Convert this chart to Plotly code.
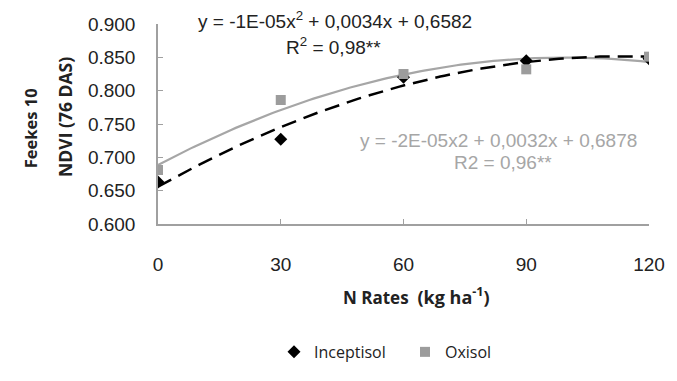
import numpy as np
import plotly.graph_objects as go

n_rates = [0, 30, 60, 90, 120]
inceptisol = [0.663, 0.727, 0.820, 0.845, 0.848]
oxisol = [0.681, 0.786, 0.825, 0.832, 0.851]
x_ticks = [0, 30, 60, 90, 120]
y_ticks = [0.600, 0.650, 0.700, 0.750, 0.800, 0.850, 0.900]

xs = np.linspace(0, 120, 121)
fit_i = np.polyval(np.polyfit(n_rates, inceptisol, 2), xs)
fit_o = np.polyval(np.polyfit(n_rates, oxisol, 2), xs)

# page body has an 8px margin; work in reference pixel coords and subtract it
OFF = 8
W, H = 677 - OFF, 381 - OFF
L, R, T, B = 158 - OFF, 28, 24 - OFF, 146
PW, PH = W - L - R, H - T - B

GRAY = "#a6a6a6"
fig = go.Figure()
fig.add_trace(go.Scatter(x=xs, y=fit_o, mode="lines", line=dict(color=GRAY, width=2.2),
                         showlegend=False, hoverinfo="skip"))
fig.add_trace(go.Scatter(x=xs, y=fit_i, mode="lines",
                         line=dict(color="black", width=2.5, dash="15px,8px"),
                         showlegend=False, hoverinfo="skip"))
fig.add_trace(go.Scatter(x=n_rates, y=inceptisol, mode="markers", name="Inceptisol",
                         marker=dict(symbol="diamond", color="black", size=10)))
fig.add_trace(go.Scatter(x=n_rates, y=oxisol, mode="markers", name="Oxisol",
                         marker=dict(symbol="square", color="#9c9c9c", size=10)))


def px_x(px):
    return (px - OFF - L) / PW


def px_y(py):
    return 1 - (py - OFF - T) / PH


fig.update_layout(
    width=W, height=H,
    paper_bgcolor="white", plot_bgcolor="white",
    margin=dict(l=L, r=R, t=T, b=B),
    font=dict(family="Liberation Sans, Arial", color="#222"),
    showlegend=True,
    legend=dict(orientation="h", x=px_x(274), xanchor="left",
                y=px_y(370), yanchor="middle",
                font=dict(family="Open Sans", size=16, color="#222"),
                itemwidth=30, tracegroupgap=0, entrywidth=86, entrywidthmode="pixels"),
)
fig.update_xaxes(range=[0, 120], tickvals=x_ticks, ticktext=[str(v) for v in x_ticks],
                 showgrid=False, zeroline=False, showline=True, linecolor="#a0a0a0", linewidth=1.5,
                 ticks="inside", ticklen=5, tickcolor="#a0a0a0", automargin=False,
                 tickfont=dict(size=19, color="#222"), ticklabelstandoff=22)
fig.update_yaxes(range=[0.6, 0.9], tickvals=y_ticks, ticktext=[f"{v:.3f}" for v in y_ticks],
                 showgrid=False, zeroline=False, showline=True, linecolor="#a0a0a0", linewidth=1.5,
                 ticks="inside", ticklen=5, tickcolor="#a0a0a0", automargin=False,
                 tickfont=dict(size=19, color="#222"), ticklabelstandoff=17)


def add_fig_text(text, px, py, size, color="#222", angle=0, family="Liberation Sans, Arial"):
    fig.add_annotation(text=text, x=px_x(px), y=px_y(py),
                       xref="paper", yref="paper", showarrow=False, textangle=angle,
                       xanchor="center", yanchor="middle",
                       font=dict(size=size, color=color, family=family))


add_fig_text("y = -1E-05x<sup>2</sup> + 0,0034x + 0,6582", 335, 20, 19)
add_fig_text("R<sup>2</sup> = 0,98**", 333, 47.5, 19)
add_fig_text("y = -2E-05x2 + 0,0032x + 0,6878", 498, 147, 19, color=GRAY)
add_fig_text("R2 = 0,96**", 503, 170, 19, color=GRAY)

add_fig_text("<b>Feekes 10</b>", 30, 134, 16.5, angle=-90, family="Open Sans")
add_fig_text("<b>NDVI (76 DAS)</b>", 65, 122, 17.5, angle=-90, family="Open Sans")
add_fig_text("<b>N Rates</b>  <b><span style='font-size:18px'>(kg ha<sup>-1</sup>)</span></b>",
             416, 311, 17, family="Open Sans")

fig.write_html("out.html")
